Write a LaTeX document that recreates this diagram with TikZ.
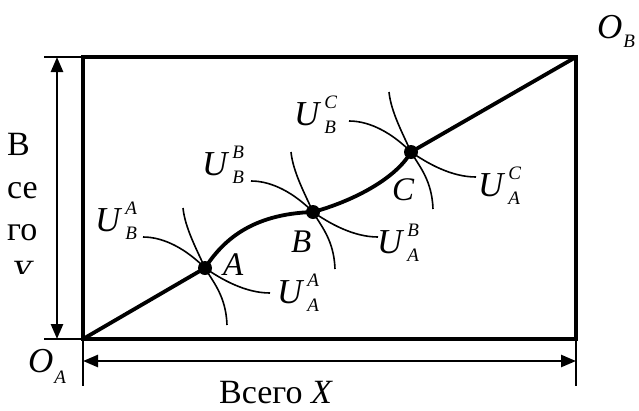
\documentclass[tikz,border=0pt]{standalone}
\usepackage{fontspec}
\setmainfont{Liberation Serif}
\usetikzlibrary{arrows.meta}
\newcommand\fs[1]{\fontsize{#1}{#1}\selectfont}
\newcommand\Ulab[2]{\textit{U}\kern3pt\rlap{\raisebox{17pt}{\fs{19}\itshape #2}}\raisebox{-8pt}{\fs{19}\itshape #1}}
\tikzset{
  thickline/.style={line width=3.8pt},
  thinline/.style={line width=1.6pt},
  dimline/.style={line width=2.5pt,{Triangle[length=15pt,width=12pt]}-{Triangle[length=15pt,width=12pt]}},
  extline/.style={line width=1.4pt},
  lab/.style={inner sep=0pt,anchor=base west,font=\fs{35}},
  ptlab/.style={inner sep=0pt,anchor=base west,font=\fs{33}\itshape},
  crossing/.pic={
    \draw[thinline] (-22,-60) .. controls (-20,-40) and (-8,-18) .. (0,0)
                    .. controls (8,14) and (21,28) .. (22,57);
    \draw[thinline] (-62,-31) .. controls (-40,-31) and (-18,-18) .. (0,0)
                    .. controls (16,11) and (40,25) .. (65,25);
  }
}
\begin{document}
\begin{tikzpicture}[x=1pt,y=-1pt]
\useasboundingbox (0,0) rectangle (639,410);
% corners and points
\coordinate (OA) at (83,339);
\coordinate (OB) at (576,57);
\coordinate (TL) at (83,57);
\coordinate (BR) at (576,339);
\coordinate (A) at (205,268);
\coordinate (B) at (313,212);
\coordinate (C) at (411,152);
% box
\draw[thickline] (OA) rectangle (OB);
% extension lines
\coordinate (e1) at (44,57);
\coordinate (e2) at (44,339);
\coordinate (e3) at (83,386);
\coordinate (e4) at (576,386);
\draw[extline] (e1) -- (TL);
\draw[extline] (e2) -- (OA);
\draw[extline] (OA) -- (e3);
\draw[extline] (BR) -- (e4);
% dimension arrows
\coordinate (v1) at (57,57);
\coordinate (v2) at (57,339);
\coordinate (h1) at (83,361);
\coordinate (h2) at (576,361);
\draw[dimline] (v1) -- (v2);
\draw[dimline] (h1) -- (h2);
% contract curve
\draw[thickline,line join=round] (OA) -- (A)
  .. controls (222,242) and (250,214) .. (B)
  .. controls (350,202) and (395,180) .. (C) -- (OB);
% indifference curves
\pic at (A) {crossing};
\pic at (B) {crossing};
\pic at (C) {crossing};
\fill (A) circle (7);
\fill (B) circle (7);
\fill (C) circle (7);
% point labels
\node[ptlab] (lA) at (223,275) {A};
\node[ptlab] (lB) at (291,252) {B};
\node[ptlab] (lC) at (392,200) {C};
% U labels
\node[lab] (uBA) at (95,231) {\Ulab{B}{A}};
\node[lab] (uAA) at (277,303) {\Ulab{A}{A}};
\node[lab] (uBB) at (202,175) {\Ulab{B}{B}};
\node[lab] (uAB) at (377,253) {\Ulab{A}{B}};
\node[lab] (uBC) at (294,125) {\Ulab{B}{C}};
\node[lab] (uAC) at (478,196) {\Ulab{A}{C}};
% origins
\node[lab] (oA) at (28,372) {\textit{O}\kern1pt\raisebox{-11pt}{\fs{19}\itshape A}};
\node[lab] (oB) at (597,38) {\textit{O}\kern1pt\raisebox{-9pt}{\fs{19}\itshape B}};
% axis labels
\node[lab,font=\fs{34}] (tx) at (219,403) {Всего \textit{X}};
\node[lab,font=\fs{34}] (ty1) at (7,155) {В};
\node[lab,font=\fs{34}] (ty2) at (7,198) {се};
\node[lab,font=\fs{34}] (ty3) at (7,240) {го};
\begin{scope}
\clip (0,250) rectangle (50,273);
\node[lab,font=\fs{34}] (ty4) at (12,283) {\textit{Y}};
\end{scope}
\end{tikzpicture}
\end{document}
